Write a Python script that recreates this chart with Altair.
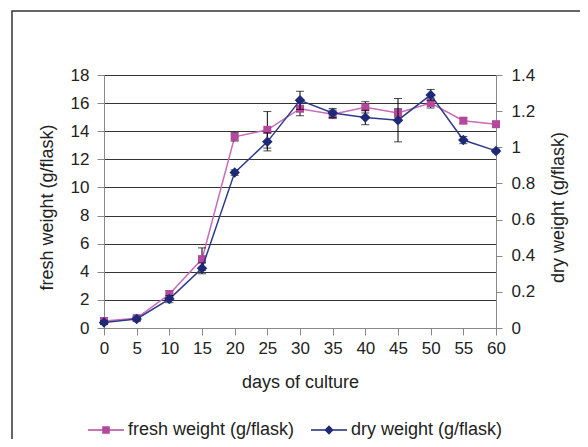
import altair as alt
import pandas as pd

days = [0, 5, 10, 15, 20, 25, 30, 35, 40, 45, 50, 55, 60]
fresh = [0.5, 0.7, 2.4, 4.9, 13.6, 14.1, 15.6, 15.2, 15.7, 15.3, 16.0, 14.75, 14.5]
fresh_err = [0.05, 0.1, 0.25, 0.8, 0.3, 1.3, 0.5, 0.3, 0.4, 0.3, 0.35, 0.2, 0.05]
dry = [0.03, 0.05, 0.16, 0.33, 0.86, 1.03, 1.26, 1.19, 1.165, 1.15, 1.29, 1.04, 0.98]
dry_err = [0.01, 0.01, 0.02, 0.03, 0.015, 0.05, 0.05, 0.025, 0.04, 0.12, 0.03, 0.02, 0.01]
series_names = ["fresh weight (g/flask)", "dry weight (g/flask)"]
left_ticks = [0, 2, 4, 6, 8, 10, 12, 14, 16, 18]
right_ticks = [0, 0.2, 0.4, 0.6, 0.8, 1.0, 1.2, 1.4]

F_LINE = "#C86BB8"
F_MARK = "#B5489D"
D_LINE = "#2E3A8C"
D_MARK = "#1E2A78"
FONT = "Liberation Sans"
TXT = "#222222"

df = pd.DataFrame({
    "day": days,
    "fresh": fresh,
    "fresh_lo": [v - e for v, e in zip(fresh, fresh_err)],
    "fresh_hi": [v + e for v, e in zip(fresh, fresh_err)],
    "dry": dry,
    "dry_lo": [v - e for v, e in zip(dry, dry_err)],
    "dry_hi": [v + e for v, e in zip(dry, dry_err)],
})

x_axis = alt.Axis(values=days, title="days of culture", grid=False, labelOverlap=False,
                  labelFlush=False,
                  domainColor="#888888", tickColor="#888888", tickSize=7,
                  labelPadding=5, labelFontSize=17, labelColor=TXT,
                  titleFontSize=18, titleFontWeight="normal", titleColor=TXT,
                  titleY=54, titleBaseline="middle", labelFont=FONT, titleFont=FONT)
xscale = alt.Scale(domain=[0, 60], nice=False, zero=False)


def X():
    return alt.X("day:Q", scale=xscale, axis=x_axis)


lscale = alt.Scale(domain=[0, 18], nice=False)
rscale = alt.Scale(domain=[0, 1.4], nice=False)

left_axis = alt.Axis(values=left_ticks, title="fresh weight (g/flask)", grid=True,
                     gridColor="#333333", gridWidth=1, domainColor="#888888",
                     tickColor="#888888", tickSize=7, labelPadding=8, labelOverlap=False,
                     labelFlush=False,
                     labelFontSize=17, labelColor=TXT, titleFontSize=18,
                     titleFontWeight="normal", titleColor=TXT, titleAngle=270,
                     titleX=-57, titleY=132, titleBaseline="middle",
                     labelFont=FONT, titleFont=FONT)
right_axis = alt.Axis(values=right_ticks, format="~g", title="dry weight (g/flask)",
                      grid=False, domainColor="#888888", tickColor="#888888",
                      tickSize=6, labelPadding=9, labelFontSize=17, labelColor=TXT,
                      labelOverlap=False, labelFlush=False,
                      titleFontSize=18, titleFontWeight="normal", titleColor=TXT,
                      titleAngle=270, titleX=62, titleY=132, titleBaseline="middle",
                      labelFont=FONT, titleFont=FONT)


def YL(field):
    return alt.Y(field, scale=lscale, axis=left_axis)


def YR(field):
    return alt.Y(field, scale=rscale, axis=right_axis)


base = alt.Chart(df)

# frame around whole figure (decoration)
frame = alt.Chart(pd.DataFrame({"a": [0]})).mark_rect(
    filled=False, stroke="#333333", strokeWidth=1.5
).encode(x=alt.value(-92), x2=alt.value(640), y=alt.value(-64), y2=alt.value(600))

f_line = base.mark_line(color=F_LINE, strokeWidth=1.5).encode(x=X(), y=YL("fresh:Q"))
f_rule = base.mark_rule(color="black", strokeWidth=1).encode(
    x=X(), y=YL("fresh_lo:Q"), y2="fresh_hi:Q")
f_cap_lo = base.mark_tick(color="black", thickness=1, size=8, orient="horizontal").encode(
    x=X(), y=YL("fresh_lo:Q"))
f_cap_hi = base.mark_tick(color="black", thickness=1, size=8, orient="horizontal").encode(
    x=X(), y=YL("fresh_hi:Q"))
f_pts = base.mark_square(color=F_MARK, size=64, opacity=1).encode(x=X(), y=YL("fresh:Q"))

path_f = ("M-1,-0.045L1,-0.045L1,0.045L-1,0.045Z "
          "M-0.21,-0.21L0.21,-0.21L0.21,0.21L-0.21,0.21Z")
path_d = ("M-1,-0.045L1,-0.045L1,0.045L-1,0.045Z "
          "M0,-0.26L0.26,0L0,0.26L-0.26,0Z")

leg_df = pd.DataFrame({"series": series_names, "day": [0, 0], "v": [-50, -50]})
legend = alt.Legend(title=None, orient="none", legendX=-16, legendY=337,
                    direction="horizontal", symbolSize=1296, labelFontSize=18,
                    labelFont=FONT, labelColor=TXT, columnPadding=16, labelOffset=4,
                    padding=0, symbolStrokeWidth=0, labelLimit=400)
leg = alt.Chart(leg_df).mark_point(filled=True, clip=True, opacity=1).encode(
    x=X(),
    y=YL("v:Q"),
    color=alt.Color("series:N", scale=alt.Scale(domain=series_names, range=[F_MARK, D_MARK]),
                    legend=legend),
    shape=alt.Shape("series:N", scale=alt.Scale(domain=series_names, range=[path_f, path_d]),
                    legend=legend),
)

left = alt.layer(frame, f_line, f_rule, f_cap_lo, f_cap_hi, f_pts, leg)

d_line = base.mark_line(color=D_LINE, strokeWidth=1.5).encode(x=X(), y=YR("dry:Q"))
d_rule = base.mark_rule(color="black", strokeWidth=1).encode(
    x=X(), y=YR("dry_lo:Q"), y2="dry_hi:Q")
d_cap_lo = base.mark_tick(color="black", thickness=1, size=8, orient="horizontal").encode(
    x=X(), y=YR("dry_lo:Q"))
d_cap_hi = base.mark_tick(color="black", thickness=1, size=8, orient="horizontal").encode(
    x=X(), y=YR("dry_hi:Q"))
d_pts = base.mark_point(shape="diamond", filled=True, color=D_MARK, size=110, opacity=1).encode(
    x=X(), y=YR("dry:Q"))

right = alt.layer(d_line, d_rule, d_cap_lo, d_cap_hi, d_pts)

chart = alt.layer(left, right).resolve_scale(y="independent").properties(
    width=392, height=253,
    autosize=alt.AutoSizeParams(type="none"),
    padding={"left": 96, "top": 67, "right": 84, "bottom": 111},
).configure_view(strokeWidth=0).configure(background="white")

chart.save("out.html", embed_options={"renderer": "svg", "actions": False})
